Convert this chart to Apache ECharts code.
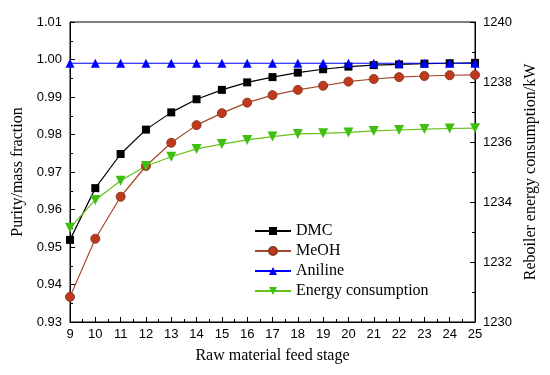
<!DOCTYPE html>
<html><head><meta charset="utf-8">
<script src="https://cdn.jsdelivr.net/npm/echarts@6/dist/echarts.min.js"></script>
<style>html,body{margin:0;padding:0;background:#fff}#c{width:550px;height:375px}</style>
</head><body><div id="c"></div>
<script>
const stages = [9,10,11,12,13,14,15,16,17,18,19,20,21,22,23,24,25];
const dmc = [0.9519,0.9657,0.9748,0.9813,0.9859,0.9894,0.9919,0.9939,0.9953,0.9965,0.9974,0.9981,0.9985,0.9987,0.9989,0.9990,0.9991];
const meoh = [0.9367,0.9522,0.9634,0.9716,0.9778,0.9825,0.9857,0.9885,0.9905,0.9919,0.9930,0.9941,0.9948,0.9953,0.9956,0.9958,0.9959];
const aniline = [0.999,0.999,0.999,0.999,0.999,0.999,0.999,0.999,0.999,0.999,0.999,0.999,0.999,0.999,0.999,0.999,0.999];
const energy = [1233.14,1234.07,1234.71,1235.20,1235.51,1235.77,1235.93,1236.07,1236.18,1236.27,1236.29,1236.32,1236.37,1236.40,1236.43,1236.45,1236.46];

const pair = arr => stages.map((s,i)=>[s,arr[i]]);
const serif = '"Liberation Serif","DejaVu Serif",serif';
const sans = '"Liberation Sans",Arial,sans-serif';
const axisCommon = {
  axisLine:{show:true,lineStyle:{color:'#000',width:1}},
  axisTick:{show:true,inside:true,length:5,lineStyle:{color:'#000'}},
  minorTick:{show:true,splitNumber:2,length:3,lineStyle:{color:'#000'}},
  splitLine:{show:false},
  axisLabel:{color:'#000',fontFamily:sans,fontSize:13}
};
const chart = echarts.init(document.getElementById('c'));
chart.setOption({
  animation:false,
  grid:{left:70,right:75,top:22,bottom:53,show:true,borderColor:'#000',borderWidth:1},
  legend:{
    orient:'vertical',left:249,top:218,itemWidth:36,itemHeight:10,itemGap:4,
    textStyle:{fontFamily:serif,fontSize:16,color:'#000'},
    data:['DMC','MeOH','Aniline','Energy consumption']
  },
  xAxis:Object.assign({},axisCommon,{
    type:'value',min:9,max:25,interval:1,
    name:'Raw material feed stage',nameLocation:'middle',nameGap:26,
    nameTextStyle:{fontFamily:serif,fontSize:16,color:'#000'},
    axisLabel:{color:'#000',fontFamily:sans,fontSize:13,margin:6}
  }),
  yAxis:[
    Object.assign({},axisCommon,{
      type:'value',min:0.93,max:1.01,interval:0.01,
      name:'Purity/mass fraction',nameLocation:'middle',nameGap:40,
      nameTextStyle:{fontFamily:serif,fontSize:16,color:'#000'},
      axisLabel:{color:'#000',fontFamily:sans,fontSize:13,margin:8,formatter:v=>v.toFixed(2)}
    }),
    Object.assign({},axisCommon,{
      type:'value',position:'right',min:1230,max:1240,interval:2,
      name:'Reboiler energy consumption/kW',nameLocation:'middle',nameGap:40,nameRotate:90,
      nameTextStyle:{fontFamily:serif,fontSize:16,color:'#000'},
      axisLabel:{color:'#000',fontFamily:sans,fontSize:13,margin:8,formatter:v=>String(v)}
    })
  ],
  series:[
    {name:'DMC',type:'line',data:pair(dmc),symbol:'rect',symbolSize:8,
     lineStyle:{color:'#000',width:1.2},itemStyle:{color:'#000'}},
    {name:'MeOH',type:'line',data:pair(meoh),symbol:'circle',symbolSize:9,
     lineStyle:{color:'#a5462a',width:1.2},itemStyle:{color:'#c0391f',borderColor:'#8a3a1e',borderWidth:1}},
    {name:'Aniline',type:'line',data:pair(aniline),symbol:'triangle',symbolSize:9,
     lineStyle:{color:'#0000ff',width:1.2},itemStyle:{color:'#0000ff'}},
    {name:'Energy consumption',type:'line',yAxisIndex:1,data:pair(energy),symbol:'triangle',symbolRotate:180,symbolSize:10,
     lineStyle:{color:'#66c21a',width:1.2},itemStyle:{color:'#3fbf10'}}
  ]
});
</script></body></html>
